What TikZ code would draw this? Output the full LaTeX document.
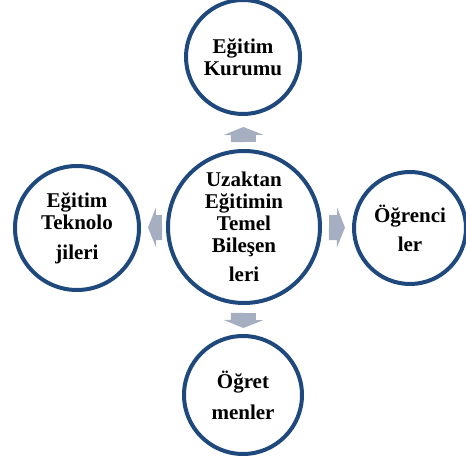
\documentclass[tikz,border=0pt]{standalone}
\usepackage{fontspec}
\setmainfont{Liberation Serif}
\usetikzlibrary{arrows.meta}
\definecolor{azulborda}{HTML}{1F497D}
\definecolor{cinzaseta}{HTML}{A6AEC1}
\tikzset{
  bolha/.style={circle, draw=azulborda, line width=4pt, fill=white, inner sep=0pt,
    align=center, font=\bfseries\fontsize{21}{22}\selectfont},
  seta/.style={draw=cinzaseta, line width=25pt,
    -{Triangle[length=8pt,width=40pt,line width=0pt]}}
}
\begin{document}
\begin{tikzpicture}[x=1pt,y=1pt]
\useasboundingbox (0,0) rectangle (466,461);
\clip (0,0) rectangle (466,461);

% círculos
\node[bolha, minimum size=152pt] (centro) at (244,234) {Uzaktan\\Eğitimin\\Temel\\Bileşen\\[7pt]leri};
\node[bolha, minimum size=114pt] (kurum) at (243,404) {Eğitim\\Kurumu};
\node[bolha, minimum size=112pt] (ogrenci) at (410,233) {Öğrenci\\[7pt]ler};
\node[bolha, minimum size=118pt] (ogretmen) at (243,66) {Öğret\\[9pt]menler};
\node[bolha, minimum size=124pt] (teknoloji) at (77,233) {Eğitim\\Teknolo\\[8pt]jileri};

% setas
\draw[seta, shorten <=7pt, shorten >=11pt] (centro) -- (kurum);
\draw[seta, shorten <=7pt, shorten >=7pt] (centro) -- (ogrenci);
\draw[seta, shorten <=8pt, shorten >=6pt] (centro) -- (ogretmen);
\draw[seta, shorten <=4pt, shorten >=7pt] (centro) -- (teknoloji);

\end{tikzpicture}
\end{document}
